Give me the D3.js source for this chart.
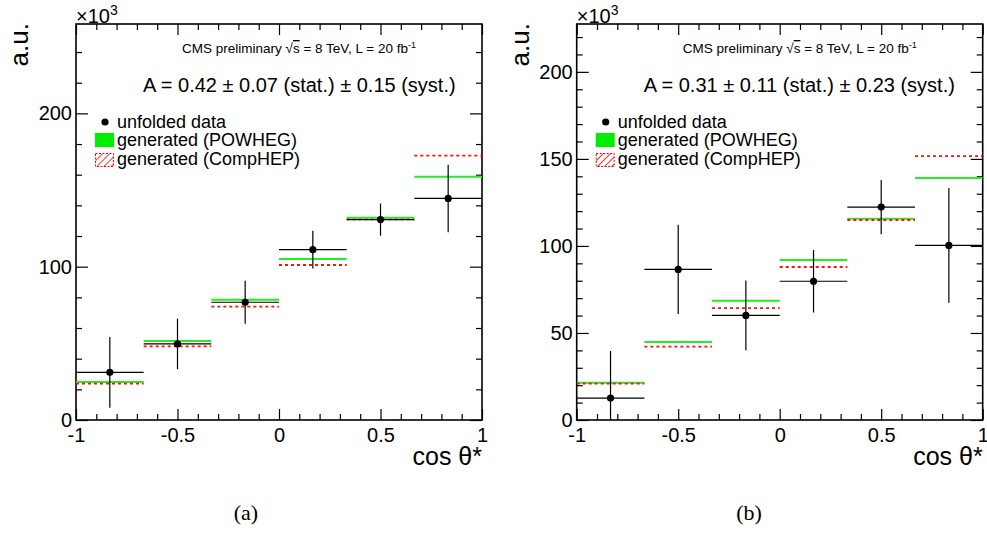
<!DOCTYPE html>
<html>
<head>
<meta charset="utf-8">
<script src="https://cdn.jsdelivr.net/npm/d3@7"></script>
<style>
  body { margin: 0; background: #fff; }
  svg { display: block; font-family: "Liberation Sans", Arial, sans-serif; }
</style>
</head>
<body>
<svg id="chart"></svg>
<script>
let w = 987;
let h = 533;

// bin edges in cos theta*
const binEdges = [-1, -2/3, -1/3, 0, 1/3, 2/3, 1];

// panel (a)
const dataA = [31.1, 49.6, 76.8, 111.1, 130.7, 144.5];
const errA = [23.1, 16.5, 14.0, 12.3, 10.5, 22.0];
const powhegA = [24.8, 51.5, 78.5, 105.0, 132.0, 158.7];
const comphepA = [23.7, 48.0, 73.9, 101.1, 130.9, 172.4];
const yTicksA = [0, 100, 200];

// panel (b)
const dataB = [12.6, 86.5, 60.1, 79.7, 122.3, 100.3];
const errB = [27.0, 25.6, 20.0, 18.0, 15.6, 33.0];
const powhegB = [21.4, 44.8, 68.5, 91.9, 115.6, 139.0];
const comphepB = [20.9, 42.1, 64.3, 87.9, 114.9, 151.6];
const yTicksB = [0, 50, 100, 150, 200];

const xTicks = [-1, -0.5, 0, 0.5, 1];
const legendLabels = ['unfolded data', 'generated (POWHEG)', 'generated (CompHEP)'];
const asymText = ['A = 0.42 \u00b1 0.07 (stat.) \u00b1 0.15 (syst.)', 'A = 0.31 \u00b1 0.11 (stat.) \u00b1 0.23 (syst.)'];
const captions = ['(a)', '(b)'];

const svg = d3.select('#chart')
  .attr('width', w)
  .attr('height', h)

const defs = svg.append('defs')
defs.append('pattern')
  .attr('id', 'hatch')
  .attr('patternUnits', 'userSpaceOnUse')
  .attr('width', 5)
  .attr('height', 5)
  .attr('patternTransform', 'rotate(45)')
  .append('line')
  .attr('x1', 0).attr('y1', 0).attr('x2', 0).attr('y2', 5)
  .attr('stroke', 'red')
  .attr('stroke-width', 1.6)

const pw = 406;
const ph = 396;

function drawPanel(id, left, top, yMax, minorStep, yTicks, data, err, powheg, comphep, aText) {
  const g = svg.append('g').attr('transform', `translate(${left},${top})`)

  const x = d3.scaleLinear().domain([-1, 1]).range([0, pw])
  const y = d3.scaleLinear().domain([0, yMax]).range([ph, 0])

  defs.append('clipPath').attr('id', 'clip' + id)
    .append('rect').attr('width', pw).attr('height', ph)

  const xMinor = d3.range(-10, 11).map(i => i / 10).filter(v => !xTicks.includes(v))
  const yMinor = d3.range(0, yMax, minorStep).filter(v => !yTicks.includes(v))

  // axes: labels + ticks pointing inside
  const bottom = g.append('g').attr('transform', `translate(0,${ph})`)
  bottom.call(d3.axisBottom(x).tickValues(xTicks).tickSize(-11).tickPadding(8).tickFormat(d => String(d)))
  bottom.append('g').call(d3.axisBottom(x).tickValues(xMinor).tickSize(-6).tickFormat(''))

  const topAx = g.append('g')
  topAx.call(d3.axisTop(x).tickValues(xTicks).tickSize(-11).tickFormat(''))
  topAx.append('g').call(d3.axisTop(x).tickValues(xMinor).tickSize(-6).tickFormat(''))

  const leftAx = g.append('g')
  leftAx.call(d3.axisLeft(y).tickValues(yTicks.filter(v => v <= yMax)).tickSize(-12).tickPadding(4).tickFormat(d => String(d)))
  leftAx.append('g').call(d3.axisLeft(y).tickValues(yMinor).tickSize(-6).tickFormat(''))

  const rightAx = g.append('g').attr('transform', `translate(${pw},0)`)
  rightAx.call(d3.axisRight(y).tickValues(yTicks.filter(v => v <= yMax)).tickSize(-12).tickFormat(''))
  rightAx.append('g').call(d3.axisRight(y).tickValues(yMinor).tickSize(-6).tickFormat(''))

  g.selectAll('.domain').remove()
  g.selectAll('.tick line').attr('stroke', '#000').attr('stroke-width', 1.2)
  g.selectAll('.tick text').attr('font-size', 20).attr('fill', '#000')
    .attr('font-family', '"Liberation Sans", Arial, sans-serif')

  g.append('rect')
    .attr('width', pw).attr('height', ph)
    .attr('fill', 'none').attr('stroke', '#000').attr('stroke-width', 1.6)

  const bins = data.map((d, i) => ({ lo: binEdges[i], hi: binEdges[i + 1], v: d, e: err[i], p: powheg[i], c: comphep[i] }))
  const plot = g.append('g').attr('clip-path', `url(#clip${id})`)

  plot.selectAll('.pow').data(bins).enter().append('line')
    .attr('x1', d => x(d.lo)).attr('x2', d => x(d.hi))
    .attr('y1', d => y(d.p)).attr('y2', d => y(d.p))
    .attr('stroke', '#22ee22').attr('stroke-width', 2)

  plot.selectAll('.chp').data(bins).enter().append('line')
    .attr('x1', d => x(d.lo)).attr('x2', d => x(d.hi))
    .attr('y1', d => y(d.c)).attr('y2', d => y(d.c))
    .attr('stroke', '#ff1010').attr('stroke-width', 1.8).attr('stroke-dasharray', '3,3')

  plot.selectAll('.hbar').data(bins).enter().append('line')
    .attr('x1', d => x(d.lo)).attr('x2', d => x(d.hi))
    .attr('y1', d => y(d.v)).attr('y2', d => y(d.v))
    .attr('stroke', '#000').attr('stroke-width', 1.2)

  plot.selectAll('.vbar').data(bins).enter().append('line')
    .attr('x1', d => x((d.lo + d.hi) / 2)).attr('x2', d => x((d.lo + d.hi) / 2))
    .attr('y1', d => y(d.v - d.e)).attr('y2', d => y(d.v + d.e))
    .attr('stroke', '#000').attr('stroke-width', 1.2)

  plot.selectAll('circle').data(bins).enter().append('circle')
    .attr('cx', d => x((d.lo + d.hi) / 2)).attr('cy', d => y(d.v))
    .attr('r', 3.6).attr('fill', '#000')

  // texts
  const cms = g.append('text').attr('x', 106).attr('y', 29).attr('font-size', 13.5)
  cms.append('tspan').text('CMS preliminary  \u221A')
  cms.append('tspan').style('text-decoration', 'overline').text('s')
  cms.append('tspan').text(' = 8 TeV, L = 20 fb')
  cms.append('tspan').attr('dy', -5).attr('font-size', 9).text('-1')

  g.append('text').attr('x', 67).attr('y', 68).attr('font-size', 20).text(aText)

  // legend
  const lg = g.append('g')
  lg.append('circle').attr('cx', 29).attr('cy', 98).attr('r', 3.6).attr('fill', '#000')
  lg.append('rect').attr('x', 19).attr('y', 109).attr('width', 19).attr('height', 14).attr('fill', '#00ee00')
  lg.append('rect').attr('x', 19.5).attr('y', 129.5).attr('width', 18).attr('height', 13)
    .attr('fill', 'url(#hatch)').attr('stroke', 'red').attr('stroke-width', 1).attr('stroke-dasharray', '2,1.5')
  lg.selectAll('text').data(legendLabels).enter().append('text')
    .attr('x', 41).attr('y', (d, i) => 104 + i * 18.3)
    .attr('font-size', 18).text(d => d)

  // axis titles
  const mult = g.append('text').attr('x', 0).attr('y', -1.5).attr('font-size', 20)
  mult.append('tspan').text('\u00d710')
  mult.append('tspan').attr('dy', -8).attr('font-size', 14).text('3')

  g.append('text')
    .attr('transform', 'translate(-48,-1) rotate(-90)')
    .attr('text-anchor', 'end').attr('font-size', 26).text('a.u.')

  g.append('text').attr('x', pw).attr('y', ph + 45)
    .attr('text-anchor', 'end').attr('font-size', 25).text('cos \u03b8*')
}

drawPanel('a', 76, 24, 258.3, 20, yTicksA, dataA, errA, powhegA, comphepA, asymText[0])
drawPanel('b', 576.7, 24, 227.5, 10, yTicksB, dataB, errB, powhegB, comphepB, asymText[1])

svg.selectAll('.caption').data(captions).enter().append('text')
  .attr('class', 'caption')
  .attr('x', (d, i) => [246, 749][i]).attr('y', 520)
  .attr('text-anchor', 'middle')
  .attr('font-family', '"Liberation Serif", "DejaVu Serif", serif')
  .attr('font-size', 22).text(d => d)
</script>
</body>
</html>
